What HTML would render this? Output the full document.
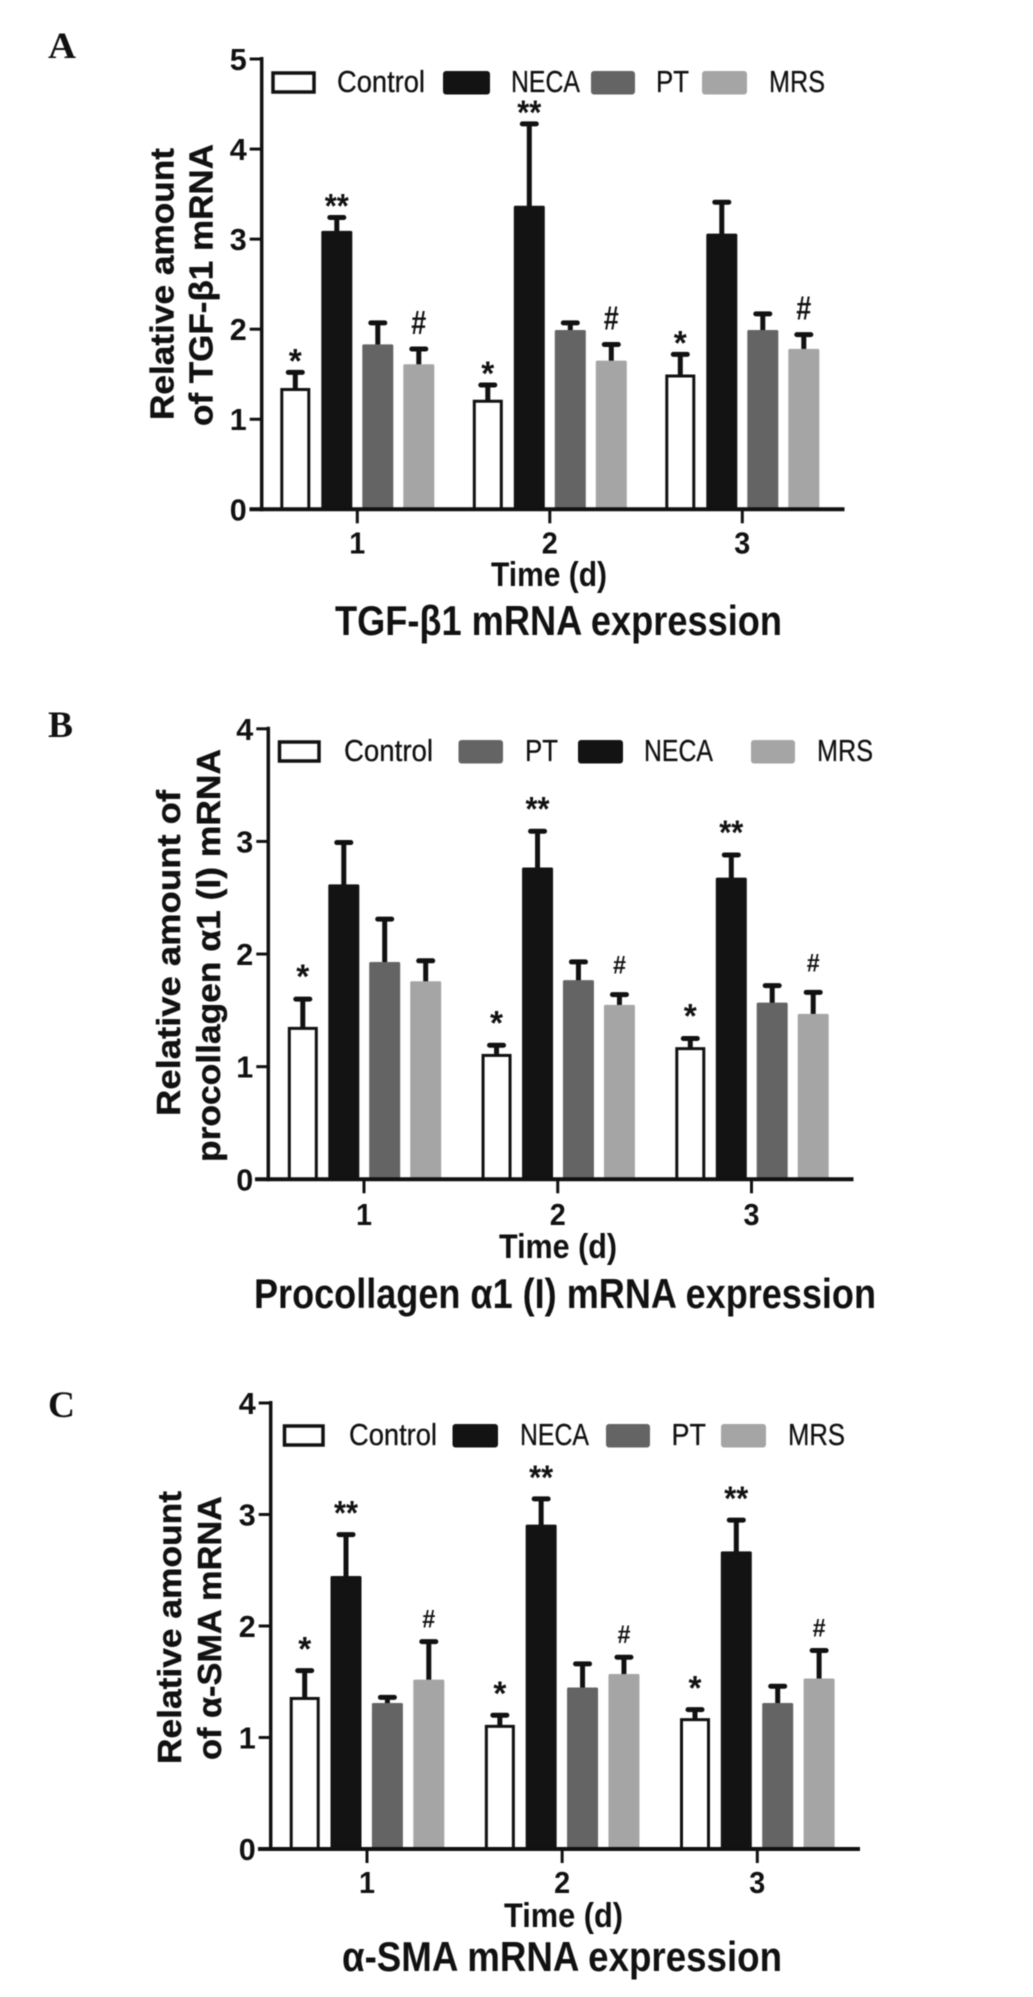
<!DOCTYPE html>
<html><head><meta charset="utf-8"><title>mRNA expression bar charts</title>
<style>html,body{margin:0;padding:0;background:#fff}svg{display:block;filter:blur(0.4px)}text{font-family:"Liberation Sans",sans-serif;fill:#111}</style>
</head><body>
<svg id="figure" xmlns="http://www.w3.org/2000/svg" width="1033" height="1997" viewBox="0 0 1033 1997"></svg>
<script>
const days = ['1', '2', '3'];

const aTicks = ['0', '1', '2', '3', '4', '5'];
const aControl = [1.33, 1.2, 1.48];
const aControlTop = [1.52, 1.38, 1.72];
const aNeca = [3.08, 3.36, 3.05];
const aNecaTop = [3.24, 4.28, 3.41];
const aPt = [1.82, 1.98, 1.98];
const aPtTop = [2.07, 2.07, 2.17];
const aMrs = [1.6, 1.64, 1.77];
const aMrsTop = [1.78, 1.83, 1.94];
const aControlSig = ['*', '*', '*'];
const aNecaSig = ['**', '**', ''];
const aPtSig = ['', '', ''];
const aMrsSig = ['#', '#', '#'];

const bTicks = ['0', '1', '2', '3', '4'];
const bControl = [1.34, 1.1, 1.16];
const bControlTop = [1.6, 1.19, 1.25];
const bNeca = [2.61, 2.76, 2.67];
const bNecaTop = [2.99, 3.09, 2.88];
const bPt = [1.92, 1.76, 1.56];
const bPtTop = [2.31, 1.93, 1.72];
const bMrs = [1.75, 1.54, 1.46];
const bMrsTop = [1.94, 1.64, 1.66];
const bControlSig = ['*', '*', '*'];
const bNecaSig = ['', '**', '**'];
const bPtSig = ['', '', ''];
const bMrsSig = ['', '#', '#'];

const cTicks = ['0', '1', '2', '3', '4'];
const cControl = [1.35, 1.1, 1.16];
const cControlTop = [1.6, 1.2, 1.25];
const cNeca = [2.44, 2.9, 2.66];
const cNecaTop = [2.82, 3.14, 2.95];
const cPt = [1.3, 1.44, 1.3];
const cPtTop = [1.36, 1.66, 1.46];
const cMrs = [1.51, 1.56, 1.52];
const cMrsTop = [1.86, 1.72, 1.78];
const cControlSig = ['*', '*', '*'];
const cNecaSig = ['**', '**', '**'];
const cPtSig = ['', '', ''];
const cMrsSig = ['#', '#', '#'];

const NS = 'http://www.w3.org/2000/svg';
const root = document.getElementById('figure');
const INK = '#111';
const FILL = { control: '#fff', neca: '#131313', pt: '#646464', mrs: '#a5a5a5' };

function node(parent, tag, attrs, name) {
  const el = document.createElementNS(NS, tag);
  for (const k in attrs) el.setAttribute(k, attrs[k]);
  
  
  parent.appendChild(el);
  return el;
}
function label(parent, str, x0, x1, base, size, name, extra) {
  const el = node(parent, 'text', Object.assign({ x: x0, y: base, 'font-size': size,
    textLength: x1 - x0, lengthAdjust: 'spacingAndGlyphs' }, extra || {}), name);
  el.textContent = str;
  return el;
}
function vlabel(parent, str, xBase, y0, y1, size, name) {
  const el = node(parent, 'text', { transform: 'translate(' + xBase + ' ' + y1 + ') rotate(-90)',
    x: 0, y: 0, 'font-size': size, 'font-weight': 'bold', stroke: '#111', 'stroke-width': 0.4, textLength: y1 - y0,
    lengthAdjust: 'spacingAndGlyphs' }, name);
  el.textContent = str;
  return el;
}

function drawPanel(p) {
  const g = node(root, 'g', {}, 'panel-' + p.id.toLowerCase());
  const maxV = +p.ticks[p.ticks.length - 1];
  const yScale = v => p.y0 - (p.y0 - p.yTop) * v / maxV;
  const xScale = i => p.x1 + i * (p.x3 - p.x1) / (days.length - 1);

  label(g, p.id, p.letter[0], p.letter[1], p.letter[2], 37, 'panel-letter-' + p.id.toLowerCase(),
    { 'font-weight': 'bold', style: 'font-family:"Liberation Serif",serif' });

  p.series.forEach((s, si) => {
    const key = s.key;
    days.forEach((d, i) => {
      const cx = xScale(i) + p.offsets[si];
      const top = yScale(s.values[i]);
      const errTop = yScale(s.tops[i]);
      node(g, 'line', { x1: cx, x2: cx, y1: top, y2: errTop, stroke: INK, 'stroke-width': 5 }, 'error-stem-' + key + '-day' + d);
      node(g, 'line', { x1: cx - 7, x2: cx + 7, y1: errTop, y2: errTop, stroke: INK, 'stroke-width': 5, 'stroke-linecap': 'round' }, 'error-cap-' + key + '-day' + d);
      if (key === 'control') {
        node(g, 'rect', { x: cx - 13.5, y: top, width: 27, height: p.y0 - top, fill: '#fff', stroke: INK, 'stroke-width': 3 }, 'bar-control-day' + d);
      } else {
        node(g, 'rect', { x: cx - 15.5, y: top - 1, width: 31, height: p.y0 - top + 1, rx: 1.5, fill: FILL[key] }, 'bar-' + key + '-day' + d);
      }
      const mark = s.sig[i];
      if (mark) {
        const isHash = mark === '#';
        const w = isHash ? p.hashW : (mark.length === 2 ? 24 : 13);
        const base = isHash ? errTop - p.hashGap : errTop - p.starGap + 20;
        label(g, mark, cx - w / 2, cx + w / 2, base, isHash ? p.hashSize : 34, 'significance-' + key + '-day' + d, { 'font-weight': 'bold' });
      }
    });
  });

  node(g, 'line', { x1: p.axisX, x2: p.axisX, y1: p.yTop - 2, y2: p.y0 + 2, stroke: INK, 'stroke-width': 3.5 }, 'y-axis');
  node(g, 'line', { x1: p.axisL, x2: p.axisR, y1: p.y0, y2: p.y0, stroke: INK, 'stroke-width': 4 }, 'x-axis');
  p.ticks.forEach(t => {
    const y = yScale(+t);
    node(g, 'line', { x1: p.axisX - 12, x2: p.axisX, y1: y, y2: y, stroke: INK, 'stroke-width': 3 }, 'y-tick-' + t);
    label(g, t, p.axisX - 32, p.axisX - 15, y + 11, 31, 'y-tick-label-' + t, { 'font-weight': 'bold' });
  });
  days.forEach((d, i) => {
    const x = xScale(i);
    node(g, 'line', { x1: x, x2: x, y1: p.y0, y2: p.y0 + 14, stroke: INK, 'stroke-width': 3 }, 'x-tick-' + d);
    label(g, d, x - 8, x + 8, p.tickBase, 31, 'x-tick-label-' + d, { 'font-weight': 'bold' });
  });

  p.legend.forEach(e => {
    const k = e.key;
    if (k === 'control') {
      node(g, 'rect', { x: e.sw[0] + 2, y: p.legY + 2, width: e.sw[1] - e.sw[0] - 4, height: 19, fill: '#fff', stroke: INK, 'stroke-width': 3.5 }, 'legend-swatch-control');
    } else {
      node(g, 'rect', { x: e.sw[0], y: p.legY, width: e.sw[1] - e.sw[0], height: 23.5, rx: 3, fill: FILL[k] }, 'legend-swatch-' + k);
    }
    label(g, e.text, e.tx[0], e.tx[1], p.legY + 21, 31, 'legend-label-' + k, { stroke: '#111', 'stroke-width': 0.3 });
  });

  vlabel(g, p.yTitle[0], p.yTitleX[0], p.yTitleY[0][0], p.yTitleY[0][1], 33, 'y-axis-title-line-1');
  vlabel(g, p.yTitle[1], p.yTitleX[1], p.yTitleY[1][0], p.yTitleY[1][1], 33, 'y-axis-title-line-2');
  label(g, 'Time (d)', p.time[0], p.time[1], p.time[2], 34, 'x-axis-title', { 'font-weight': 'bold' });
  label(g, p.title[0], p.title[1], p.title[2], p.title[3], 42, 'chart-title', { 'font-weight': 'bold' });
}

drawPanel({
  id: 'A', letter: [48, 76, 58], ticks: aTicks, y0: 509.3, yTop: 59, axisX: 261.7, axisL: 249.5, axisR: 844.5,
  x1: 357.3, x3: 742.3, offsets: [-62, -20.5, 20.5, 61.5], hashW: 15, hashSize: 33, hashGap: 15, starGap: 20, tickBase: 553.5,
  series: [
    { key: 'control', values: aControl, tops: aControlTop, sig: aControlSig },
    { key: 'neca', values: aNeca, tops: aNecaTop, sig: aNecaSig },
    { key: 'pt', values: aPt, tops: aPtTop, sig: aPtSig },
    { key: 'mrs', values: aMrs, tops: aMrsTop, sig: aMrsSig }
  ],
  legY: 71,
  legend: [
    { key: 'control', text: 'Control', sw: [271, 316], tx: [337, 425] },
    { key: 'neca', text: 'NECA', sw: [443, 490], tx: [511, 580] },
    { key: 'pt', text: 'PT', sw: [591, 635], tx: [656, 689] },
    { key: 'mrs', text: 'MRS', sw: [702, 747], tx: [769, 825] }
  ],
  yTitle: ['Relative amount', 'of TGF-\u03B21 mRNA'], yTitleX: [173.5, 212.5], yTitleY: [[148, 420], [144, 426]],
  time: [491, 607, 586], title: ['TGF-\u03B21 mRNA expression', 335, 782, 635]
});
drawPanel({
  id: 'B', letter: [48, 73, 737], ticks: bTicks, y0: 1179.3, yTop: 728.8, axisX: 268.3, axisL: 255, axisR: 853.5,
  x1: 364, x3: 751.5, offsets: [-61.2, -20.2, 20.7, 61.7], hashW: 13, hashSize: 25, hashGap: 21, starGap: 31, tickBase: 1225,
  series: [
    { key: 'control', values: bControl, tops: bControlTop, sig: bControlSig },
    { key: 'neca', values: bNeca, tops: bNecaTop, sig: bNecaSig },
    { key: 'pt', values: bPt, tops: bPtTop, sig: bPtSig },
    { key: 'mrs', values: bMrs, tops: bMrsTop, sig: bMrsSig }
  ],
  legY: 740,
  legend: [
    { key: 'control', text: 'Control', sw: [277.5, 321], tx: [344, 433] },
    { key: 'pt', text: 'PT', sw: [458.5, 503], tx: [525, 558] },
    { key: 'neca', text: 'NECA', sw: [578, 623], tx: [644, 713] },
    { key: 'mrs', text: 'MRS', sw: [751, 795], tx: [817, 873] }
  ],
  yTitle: ['Relative amount of', 'procollagen \u03B11 (I) mRNA'], yTitleX: [180, 220], yTitleY: [[790, 1116], [749, 1162]],
  time: [499, 617, 1258], title: ['Procollagen \u03B11 (I) mRNA expression', 254, 876, 1308]
});
drawPanel({
  id: 'C', letter: [48, 75, 1417], ticks: cTicks, y0: 1849, yTop: 1403, axisX: 270.7, axisL: 258, axisR: 860,
  x1: 367, x3: 757.3, offsets: [-62.3, -21, 20.4, 61.8], hashW: 13, hashSize: 25, hashGap: 14, starGap: 30, tickBase: 1893,
  series: [
    { key: 'control', values: cControl, tops: cControlTop, sig: cControlSig },
    { key: 'neca', values: cNeca, tops: cNecaTop, sig: cNecaSig },
    { key: 'pt', values: cPt, tops: cPtTop, sig: cPtSig },
    { key: 'mrs', values: cMrs, tops: cMrsTop, sig: cMrsSig }
  ],
  legY: 1424,
  legend: [
    { key: 'control', text: 'Control', sw: [282.5, 325], tx: [349, 437] },
    { key: 'neca', text: 'NECA', sw: [452.5, 498], tx: [520, 589] },
    { key: 'pt', text: 'PT', sw: [606, 650], tx: [671.5, 706] },
    { key: 'mrs', text: 'MRS', sw: [721, 766], tx: [788, 845] }
  ],
  yTitle: ['Relative amount', 'of \u03B1-SMA mRNA'], yTitleX: [181, 221], yTitleY: [[1491, 1764], [1496, 1760]],
  time: [504, 623, 1927], title: ['\u03B1-SMA mRNA expression', 342, 782, 1971]
});
</script>
</body></html>
